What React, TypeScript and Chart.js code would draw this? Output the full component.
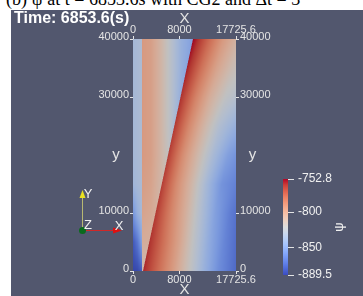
import React, { useEffect, useRef } from "react";
import { Chart, registerables } from "chart.js";

Chart.register(...registerables);

// ---------- data ----------
const xRange = [0, 17725.6];
const yRange = [0, 40000];
const xTickValues = [0, 8000, 17725.6];
const yTickValues = [0, 10000, 30000, 40000];
const psiRange = [-889.5, -752.8];
const colorbarTicks = [-752.8, -800, -850, -889.5];
const colorbarTitle = "ψ";
const timeText = "Time: 6853.6(s)";
const captionText = "(b) ψ at t = 6853.6s with CG2 and Δt = 3";
const xTitle = "X";
const yTitle = "y";

// psi field sampled on mesh rows (y, from top to bottom); each row lists node x positions and values.
// Repeated x positions mark jumps (the shock near x = 1549 and the sloping front).
const meshRowY = [40000, 35000, 30000, 25000, 20000, 15000, 10000, 5000, 0];
const meshNodeX: number[][] = [
  [0, 775, 1549, 1549, 3098, 4819, 6540, 8261, 10326, 10326, 12908, 15489, 17725.6, 17725.6, 17725.6, 17725.6, 17725.6],
  [0, 775, 1549, 1549, 3098, 4819, 6540, 8261, 9250, 9250, 11832, 14413, 16995, 17725.6, 17725.6, 17725.6, 17725.6],
  [0, 775, 1549, 1549, 3098, 4819, 6540, 8175, 8175, 8175, 10757, 13338, 15920, 17725.6, 17725.6, 17725.6, 17725.6],
  [0, 775, 1549, 1549, 3098, 4819, 6540, 7099, 7099, 7099, 9681, 12262, 14844, 17425, 17725.6, 17725.6, 17725.6],
  [0, 775, 1549, 1549, 3098, 4819, 6024, 6024, 6024, 6024, 8606, 11187, 13769, 16350, 17725.6, 17725.6, 17725.6],
  [0, 775, 1549, 1549, 3098, 4819, 4948, 4948, 4948, 4948, 7530, 10111, 12693, 15274, 17725.6, 17725.6, 17725.6],
  [0, 775, 1549, 1549, 3098, 3872, 3872, 3872, 3872, 3872, 6454, 9035, 11617, 14198, 16780, 17725.6, 17725.6],
  [0, 775, 1549, 1549, 2797, 2797, 2797, 2797, 2797, 2797, 5379, 7960, 10542, 13123, 15705, 17725.6, 17725.6],
  [0, 775, 1549, 1549, 1721, 1721, 1721, 1721, 1721, 1721, 4303, 6884, 9466, 12047, 14629, 17210, 17725.6],
];
const meshNodePsi: number[][] = [
  [-836, -834, -832, -795, -798, -810, -826, -842, -852, -753, -775, -795, -808, -808, -808, -808, -808],
  [-836, -834, -832, -795, -798, -810, -826, -842, -849, -757, -780, -800, -815, -818, -818, -818, -818],
  [-836, -834, -832, -795, -798, -810, -826, -843, -843, -760, -785, -806, -822, -828, -828, -828, -828],
  [-836, -834, -832, -795, -798, -810, -826, -834, -834, -762, -788, -810, -830, -842, -843, -843, -843],
  [-836, -834, -832, -795, -798, -810, -820, -820, -820, -763, -790, -812, -834, -852, -858, -858, -858],
  [-838, -835, -833, -797, -800, -811, -812, -812, -812, -763, -789, -811, -836, -858, -866, -866, -866],
  [-858, -843, -835, -800, -803, -806, -806, -806, -806, -762, -785, -806, -830, -852, -868, -872, -872],
  [-882, -870, -850, -805, -806, -806, -806, -806, -806, -760, -780, -800, -824, -846, -864, -874, -874],
  [-888, -887, -880, -815, -815, -815, -815, -815, -815, -758, -777, -796, -818, -840, -860, -873, -875],
];

// ---------- colour map (Cool to Warm) ----------
const coolWarmStops = [
  [59, 76, 192], [77, 104, 215], [98, 130, 234], [119, 154, 247], [141, 176, 254],
  [163, 194, 255], [184, 208, 249], [204, 217, 238], [221, 221, 221], [236, 211, 197],
  [245, 196, 173], [247, 177, 148], [244, 154, 123], [236, 127, 99], [222, 96, 77],
  [203, 62, 56], [180, 4, 38],
];
function coolWarm(t: number): number[] {
  const n = coolWarmStops.length;
  const tt = Math.max(0, Math.min(1, t)) * (n - 1);
  const i = Math.min(n - 2, Math.floor(tt));
  const f = tt - i;
  const a = coolWarmStops[i], b = coolWarmStops[i + 1];
  return [a[0] + (b[0] - a[0]) * f, a[1] + (b[1] - a[1]) * f, a[2] + (b[2] - a[2]) * f];
}
const SHADE = 0.87;
const FONT = '"Liberation Sans", Arial, sans-serif';
const LABEL_COLOR = "#e4e4e4";

function samplePsi(xv: number, yv: number): number {
  const nr = meshRowY.length;
  let j = 0;
  while (j < nr - 2 && yv < meshRowY[j + 1]) j++;
  let t = (meshRowY[j] - yv) / (meshRowY[j] - meshRowY[j + 1]);
  t = Math.max(0, Math.min(1, t));
  const xa = meshNodeX[j], xb = meshNodeX[j + 1];
  const va = meshNodePsi[j], vb = meshNodePsi[j + 1];
  const K = xa.length;
  let prevX = xa[0] * (1 - t) + xb[0] * t;
  let prevV = va[0] * (1 - t) + vb[0] * t;
  if (xv <= prevX) return prevV;
  for (let k = 1; k < K; k++) {
    const nx = xa[k] * (1 - t) + xb[k] * t;
    const nv = va[k] * (1 - t) + vb[k] * t;
    if (nx > prevX && xv <= nx) {
      const f = (xv - prevX) / (nx - prevX);
      return prevV + (nv - prevV) * f;
    }
    prevX = nx;
    prevV = nv;
  }
  return prevV;
}

const heatmapPlugin = {
  id: "heatmap",
  beforeDatasetsDraw(chart: any) {
    const { ctx, scales } = chart;
    const xs = scales.x, ys = scales.y;
    const left = Math.round(xs.getPixelForValue(xRange[0]));
    const right = Math.round(xs.getPixelForValue(xRange[1]));
    const top = Math.round(ys.getPixelForValue(yRange[1]));
    const bottom = Math.round(ys.getPixelForValue(yRange[0]));
    const w = right - left, h = bottom - top;
    if (w <= 0 || h <= 0) return;
    const off = document.createElement("canvas");
    off.width = w; off.height = h;
    const octx = off.getContext("2d")!;
    const img = octx.createImageData(w, h);
    const SS = 3;
    for (let py = 0; py < h; py++) {
      for (let px = 0; px < w; px++) {
        let r = 0, g = 0, b = 0;
        for (let sy = 0; sy < SS; sy++) {
          const yv = ys.getValueForPixel(top + py + (sy + 0.5) / SS);
          for (let sx = 0; sx < SS; sx++) {
            const xv = xs.getValueForPixel(left + px + (sx + 0.5) / SS);
            const v = samplePsi(xv, yv);
            const c = coolWarm((v - psiRange[0]) / (psiRange[1] - psiRange[0]));
            r += c[0]; g += c[1]; b += c[2];
          }
        }
        const n = SS * SS;
        const k = (py * w + px) * 4;
        img.data[k] = (r / n) * SHADE;
        img.data[k + 1] = (g / n) * SHADE;
        img.data[k + 2] = (b / n) * SHADE;
        img.data[k + 3] = 255;
      }
    }
    octx.putImageData(img, 0, 0);
    ctx.drawImage(off, left, top);
  },
};

function line(ctx: CanvasRenderingContext2D, x1: number, y1: number, x2: number, y2: number) {
  ctx.beginPath();
  ctx.moveTo(x1, y1);
  ctx.lineTo(x2, y2);
  ctx.stroke();
}

const decorPlugin = {
  id: "decor",
  afterDraw(chart: any) {
    const { ctx, chartArea: ca, scales } = chart;
    ctx.save();
    ctx.strokeStyle = LABEL_COLOR;
    ctx.lineWidth = 1;
    for (const v of yTickValues) {
      const y = Math.round(scales.y.getPixelForValue(v)) + 0.5;
      line(ctx, ca.left - 3, y, ca.left, y);
      line(ctx, ca.right, y, ca.right + 3, y);
    }
    for (const v of xTickValues) {
      const x = Math.round(scales.x.getPixelForValue(v)) + 0.5;
      line(ctx, x, ca.top - 3, x, ca.top);
      line(ctx, x, ca.bottom, x, ca.bottom + 3);
    }
    ctx.fillStyle = LABEL_COLOR;
    ctx.font = `15px ${FONT}`;
    ctx.textAlign = "center";
    ctx.textBaseline = "middle";
    const cx = (ca.left + ca.right) / 2;
    const cy = (ca.top + ca.bottom) / 2;
    ctx.fillText(xTitle, cx, ca.top - 20);
    ctx.fillText(xTitle, cx, ca.bottom + 19);
    ctx.fillText(yTitle, ca.left - 17, cy);
    ctx.fillText(yTitle, ca.right + 16.5, cy);

    ctx.fillStyle = "#ffffff";
    ctx.font = `bold 16px ${FONT}`;
    ctx.textAlign = "left";
    ctx.fillText(timeText, 3, 9);

    const bx = 272, bw = 5, btop = 169, bbot = 265;
    const grad = ctx.createLinearGradient(0, bbot, 0, btop);
    coolWarmStops.forEach((c, i) => {
      grad.addColorStop(i / (coolWarmStops.length - 1), `rgb(${c[0]},${c[1]},${c[2]})`);
    });
    ctx.fillStyle = grad;
    ctx.fillRect(bx, btop, bw, bbot - btop);
    ctx.strokeStyle = LABEL_COLOR;
    ctx.fillStyle = "#f0f0f0";
    ctx.font = `12px ${FONT}`;
    ctx.textAlign = "left";
    ctx.textBaseline = "middle";
    for (const v of colorbarTicks) {
      const y = btop + ((psiRange[1] - v) / (psiRange[1] - psiRange[0])) * (bbot - btop);
      const yy = Math.round(y) + 0.5;
      line(ctx, bx + bw, yy, bx + bw + 6, yy);
      ctx.fillText(String(v), bx + bw + 10, y);
    }
    ctx.save();
    ctx.translate(328, 217);
    ctx.rotate(-Math.PI / 2);
    ctx.font = `13px ${FONT}`;
    ctx.textAlign = "center";
    ctx.fillText(colorbarTitle, 0, 0);
    ctx.restore();

    const ox = 71, oy = 220;
    ctx.lineWidth = 1;
    ctx.strokeStyle = "#b8b872";
    line(ctx, ox + 0.5, oy, ox + 0.5, 186);
    ctx.fillStyle = "#e8e020";
    ctx.beginPath();
    ctx.moveTo(ox + 0.5, 180);
    ctx.lineTo(ox - 2.5, 188);
    ctx.lineTo(ox + 3.5, 188);
    ctx.closePath();
    ctx.fill();
    ctx.strokeStyle = "#d02828";
    line(ctx, ox, oy + 0.5, 104, oy + 0.5);
    ctx.fillStyle = "#e01010";
    ctx.beginPath();
    ctx.moveTo(111, oy + 0.5);
    ctx.lineTo(102, oy - 2.5);
    ctx.lineTo(102, oy + 3.5);
    ctx.closePath();
    ctx.fill();
    ctx.fillStyle = "#0a6a1c";
    ctx.beginPath();
    ctx.arc(ox + 0.5, oy + 0.5, 3.5, 0, Math.PI * 2);
    ctx.fill();
    ctx.fillStyle = "#f0f0f0";
    ctx.font = `13px ${FONT}`;
    ctx.textAlign = "center";
    ctx.fillText("Y", 77, 184);
    ctx.fillText("Z", 77, 215);
    ctx.fillText("X", 108, 216);
    ctx.restore();
  },
};

function axisCommon(values: number[], extra: any) {
  return {
    type: "linear",
    grid: { display: false, drawTicks: false, tickLength: 0 },
    border: { display: false },
    afterBuildTicks: (axis: any) => {
      axis.ticks = values.map((v) => ({ value: v }));
    },
    ...extra,
  };
}

export default function App() {
  const ref = useRef<HTMLCanvasElement>(null);
  useEffect(() => {
    const tickFont = { family: FONT, size: 11 };
    const chart = new Chart(ref.current as HTMLCanvasElement, {
      type: "scatter",
      data: { datasets: [] },
      options: {
        responsive: false,
        animation: false,
        devicePixelRatio: 1,
        layout: { padding: 0 },
        plugins: { legend: { display: false }, tooltip: { enabled: false }, title: { display: false } },
        scales: {
          x: axisCommon(xTickValues, {
            position: "bottom", min: xRange[0], max: xRange[1],
            afterFit: (a: any) => { a.height = 25; },
            ticks: { color: LABEL_COLOR, font: tickFont, padding: 2, maxRotation: 0, minRotation: 0, autoSkip: false, callback: (v: any) => String(v) },
          }),
          xTop: axisCommon(xTickValues, {
            position: "top", min: xRange[0], max: xRange[1],
            afterFit: (a: any) => { a.height = 29; },
            ticks: { color: LABEL_COLOR, font: tickFont, padding: 2, maxRotation: 0, minRotation: 0, autoSkip: false, callback: (v: any) => String(v) },
          }),
          y: axisCommon(yTickValues, {
            position: "left", min: yRange[0], max: yRange[1],
            afterFit: (a: any) => { a.width = 122; },
            ticks: { color: LABEL_COLOR, font: tickFont, padding: 4, labelOffset: -2, autoSkip: false, callback: (v: any) => String(v) },
          }),
          yRight: axisCommon(yTickValues, {
            position: "right", min: yRange[0], max: yRange[1],
            afterFit: (a: any) => { a.width = 127; },
            ticks: { color: LABEL_COLOR, font: tickFont, padding: 4, labelOffset: -2, autoSkip: false, callback: (v: any) => String(v) },
          }),
        },
      } as any,
      plugins: [heatmapPlugin, decorPlugin],
    });
    return () => chart.destroy();
  }, []);
  return (
    <div style={{ position: "fixed", left: 0, top: 0, width: 363, height: 296, overflow: "hidden", background: "#ffffff" }}>
      <div
        style={{
          position: "absolute", left: 6, top: -10, font: '18px "Liberation Serif", "Times New Roman", serif',
          lineHeight: "18px", whiteSpace: "nowrap", color: "#000",
        }}
      >
        {captionText}
      </div>
      <canvas
        ref={ref}
        width={352}
        height={286}
        style={{ position: "absolute", left: 11, top: 10, width: 352, height: 286, background: "#52576e" }}
      />
    </div>
  );
}
